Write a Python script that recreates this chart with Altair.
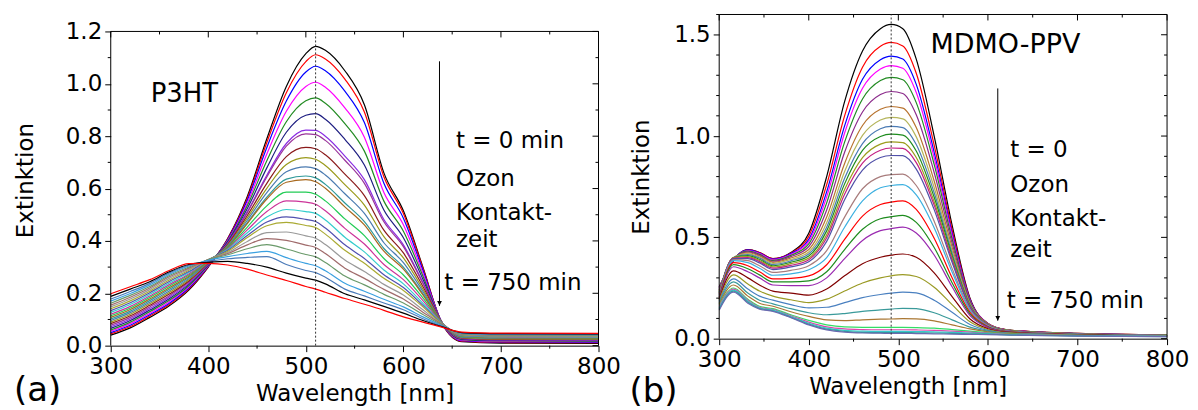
import altair as alt
import pandas as pd

FONT = "DejaVu Sans"

# ---------------- Panel (a): P3HT ----------------
A_WL = [300, 320, 340, 360, 380, 400, 420, 440, 460, 480, 500, 510, 520, 540, 560, 580, 600, 620, 640, 660, 700, 800]
# one row per wavelength, one column per spectrum (t = 0 ... t = 750 min)
A_EXT = [
    [0.040,0.045,0.050,0.055,0.060,0.066,0.072,0.078,0.084,0.090,0.096,0.102,0.108,0.114,0.120,0.127,0.134,0.141,0.148,0.155,0.162,0.170,0.178,0.188,0.198],
    [0.068,0.073,0.078,0.084,0.090,0.096,0.102,0.108,0.114,0.120,0.126,0.132,0.138,0.144,0.150,0.157,0.164,0.171,0.178,0.185,0.192,0.199,0.207,0.216,0.225],
    [0.108,0.113,0.118,0.124,0.130,0.136,0.142,0.148,0.154,0.160,0.166,0.172,0.178,0.184,0.190,0.196,0.202,0.208,0.214,0.220,0.226,0.232,0.238,0.244,0.252],
    [0.152,0.157,0.162,0.168,0.173,0.179,0.185,0.191,0.197,0.203,0.209,0.215,0.221,0.227,0.233,0.239,0.245,0.251,0.257,0.263,0.268,0.273,0.278,0.282,0.287],
    [0.212,0.216,0.220,0.225,0.229,0.234,0.238,0.243,0.247,0.252,0.256,0.261,0.265,0.270,0.274,0.279,0.283,0.288,0.292,0.296,0.300,0.304,0.307,0.310,0.313],
    [0.300,0.302,0.304,0.306,0.308,0.310,0.312,0.314,0.316,0.318,0.320,0.322,0.323,0.325,0.326,0.327,0.328,0.329,0.329,0.329,0.328,0.326,0.322,0.318,0.314],
    [0.410,0.408,0.405,0.402,0.399,0.396,0.393,0.390,0.387,0.384,0.381,0.378,0.376,0.373,0.370,0.367,0.364,0.360,0.356,0.352,0.347,0.340,0.332,0.322,0.308],
    [0.570,0.563,0.555,0.545,0.535,0.524,0.512,0.508,0.497,0.488,0.479,0.470,0.466,0.453,0.442,0.431,0.421,0.413,0.398,0.385,0.370,0.352,0.337,0.314,0.292],
    [0.790,0.776,0.757,0.732,0.706,0.679,0.651,0.644,0.620,0.601,0.584,0.567,0.560,0.534,0.512,0.491,0.472,0.458,0.432,0.409,0.386,0.360,0.340,0.300,0.270],
    [0.990,0.966,0.934,0.895,0.855,0.815,0.772,0.762,0.722,0.692,0.664,0.636,0.624,0.586,0.553,0.520,0.492,0.471,0.434,0.402,0.369,0.336,0.310,0.277,0.249],
    [1.115,1.085,1.045,0.990,0.935,0.880,0.823,0.809,0.757,0.718,0.683,0.648,0.634,0.586,0.548,0.512,0.482,0.459,0.419,0.384,0.348,0.314,0.287,0.258,0.226],
    [1.143,1.111,1.067,1.006,0.946,0.886,0.822,0.806,0.752,0.712,0.676,0.641,0.626,0.578,0.540,0.505,0.474,0.451,0.410,0.375,0.339,0.305,0.279,0.250,0.216],
    [1.128,1.095,1.050,0.987,0.926,0.865,0.800,0.784,0.729,0.688,0.652,0.616,0.601,0.553,0.515,0.480,0.449,0.426,0.386,0.352,0.318,0.286,0.261,0.236,0.204],
    [1.050,1.018,0.972,0.908,0.848,0.788,0.724,0.708,0.655,0.615,0.580,0.545,0.530,0.484,0.448,0.414,0.385,0.364,0.327,0.296,0.266,0.238,0.216,0.198,0.180],
    [0.920,0.892,0.852,0.796,0.743,0.690,0.634,0.620,0.573,0.537,0.505,0.474,0.461,0.420,0.388,0.358,0.333,0.315,0.283,0.257,0.232,0.208,0.190,0.175,0.158],
    [0.660,0.645,0.620,0.585,0.552,0.518,0.482,0.473,0.441,0.416,0.393,0.371,0.361,0.333,0.310,0.289,0.271,0.257,0.234,0.215,0.196,0.177,0.163,0.150,0.135],
    [0.515,0.505,0.487,0.462,0.437,0.412,0.385,0.378,0.354,0.335,0.317,0.300,0.292,0.270,0.252,0.236,0.222,0.211,0.193,0.178,0.163,0.148,0.137,0.124,0.110],
    [0.300,0.296,0.288,0.277,0.266,0.254,0.241,0.238,0.226,0.216,0.207,0.198,0.194,0.182,0.172,0.162,0.154,0.148,0.137,0.128,0.119,0.110,0.103,0.096,0.090],
    [0.082,0.083,0.084,0.085,0.085,0.086,0.086,0.086,0.086,0.086,0.086,0.086,0.086,0.085,0.085,0.084,0.083,0.082,0.081,0.080,0.078,0.076,0.074,0.072,0.070],
    [0.015,0.017,0.019,0.021,0.023,0.025,0.027,0.028,0.030,0.031,0.032,0.034,0.035,0.036,0.038,0.039,0.040,0.041,0.043,0.044,0.045,0.047,0.048,0.050,0.052],
    [0.010,0.012,0.014,0.016,0.018,0.020,0.022,0.023,0.025,0.026,0.028,0.029,0.030,0.032,0.033,0.034,0.036,0.037,0.038,0.040,0.041,0.043,0.044,0.046,0.048],
    [0.009,0.011,0.013,0.015,0.017,0.019,0.021,0.022,0.024,0.025,0.027,0.028,0.029,0.031,0.032,0.033,0.035,0.036,0.037,0.039,0.040,0.042,0.043,0.045,0.047],
]
A_COLORS = ["#000000", "#ff0000", "#0000ff", "#ff00ff", "#228b22", "#1c1c80", "#8a2be2", "#993399",
            "#8b1a1a", "#9a9a1a", "#4a7ab0", "#2e9999", "#a8691e", "#22cc55", "#cc3399", "#33cccc",
            "#5050b0", "#aaaa33", "#999999", "#a06b6b", "#6a9a6a", "#3aa0e0", "#4a7ab8", "#000000", "#ff0000"]
A_Y_MAJOR = [0.0, 0.2, 0.4, 0.6, 0.8, 1.0, 1.2]
A_Y_MINOR = [0.1, 0.3, 0.5, 0.7, 0.9, 1.1]

# ---------------- Panel (b): MDMO-PPV ----------------
B_WL = [300, 316, 332, 345, 360, 380, 400, 420, 440, 460, 480, 492, 505, 520, 540, 560, 580, 600, 620, 660, 700, 800]
B_EXT = [
    [0.255,0.252,0.249,0.246,0.243,0.240,0.237,0.234,0.231,0.228,0.225,0.222,0.219,0.215,0.211,0.207,0.203,0.199,0.194,0.189,0.183,0.177,0.171,0.165,0.159,0.153,0.147,0.141],
    [0.385,0.388,0.390,0.392,0.394,0.396,0.398,0.400,0.400,0.400,0.400,0.398,0.395,0.390,0.385,0.375,0.365,0.355,0.335,0.315,0.295,0.280,0.265,0.250,0.245,0.240,0.235,0.230],
    [0.440,0.440,0.438,0.435,0.432,0.428,0.424,0.420,0.415,0.410,0.405,0.400,0.395,0.385,0.375,0.360,0.345,0.330,0.300,0.270,0.245,0.225,0.210,0.195,0.190,0.185,0.180,0.175],
    [0.425,0.425,0.423,0.420,0.416,0.412,0.408,0.403,0.398,0.392,0.386,0.380,0.374,0.360,0.348,0.330,0.315,0.300,0.265,0.235,0.210,0.190,0.175,0.160,0.155,0.152,0.149,0.146],
    [0.395,0.395,0.393,0.390,0.386,0.382,0.377,0.372,0.366,0.360,0.354,0.348,0.341,0.327,0.313,0.295,0.280,0.265,0.235,0.210,0.190,0.172,0.160,0.148,0.144,0.141,0.138,0.135],
    [0.425,0.423,0.420,0.416,0.411,0.405,0.398,0.391,0.384,0.377,0.370,0.362,0.354,0.337,0.320,0.298,0.280,0.262,0.225,0.192,0.168,0.148,0.133,0.118,0.113,0.109,0.106,0.104],
    [0.520,0.505,0.490,0.480,0.468,0.455,0.440,0.428,0.418,0.408,0.398,0.390,0.380,0.360,0.340,0.310,0.285,0.262,0.215,0.178,0.152,0.128,0.110,0.090,0.082,0.076,0.072,0.068],
    [0.800,0.760,0.725,0.700,0.670,0.635,0.600,0.572,0.550,0.532,0.513,0.498,0.480,0.435,0.400,0.365,0.330,0.300,0.245,0.195,0.155,0.118,0.093,0.068,0.058,0.052,0.047,0.043],
    [1.170,1.100,1.050,1.015,0.970,0.920,0.865,0.825,0.792,0.764,0.736,0.713,0.686,0.600,0.550,0.490,0.440,0.395,0.310,0.235,0.178,0.124,0.089,0.058,0.048,0.041,0.036,0.032],
    [1.420,1.340,1.280,1.236,1.183,1.119,1.052,1.003,0.963,0.929,0.893,0.866,0.832,0.740,0.680,0.605,0.540,0.485,0.370,0.275,0.203,0.135,0.093,0.056,0.045,0.037,0.031,0.028],
    [1.530,1.443,1.377,1.331,1.274,1.205,1.132,1.079,1.036,0.998,0.960,0.930,0.894,0.800,0.745,0.662,0.592,0.533,0.402,0.300,0.218,0.142,0.096,0.056,0.044,0.036,0.030,0.027],
    [1.551,1.462,1.395,1.348,1.290,1.220,1.146,1.092,1.048,1.010,0.971,0.941,0.904,0.810,0.756,0.674,0.602,0.543,0.412,0.310,0.225,0.146,0.097,0.056,0.044,0.036,0.030,0.026],
    [1.530,1.445,1.380,1.335,1.278,1.210,1.138,1.085,1.042,1.005,0.968,0.939,0.903,0.812,0.760,0.680,0.609,0.551,0.418,0.316,0.230,0.150,0.099,0.056,0.044,0.036,0.030,0.026],
    [1.380,1.310,1.255,1.215,1.165,1.105,1.042,0.996,0.958,0.926,0.894,0.869,0.837,0.756,0.710,0.638,0.574,0.522,0.402,0.307,0.226,0.148,0.098,0.055,0.043,0.035,0.029,0.025],
    [1.000,0.955,0.920,0.893,0.860,0.820,0.778,0.746,0.720,0.698,0.676,0.659,0.637,0.580,0.548,0.496,0.450,0.413,0.325,0.254,0.190,0.128,0.088,0.052,0.041,0.034,0.028,0.024],
    [0.560,0.540,0.522,0.508,0.492,0.472,0.451,0.435,0.422,0.410,0.398,0.389,0.377,0.347,0.329,0.301,0.276,0.256,0.208,0.168,0.130,0.093,0.068,0.045,0.037,0.031,0.026,0.022],
    [0.200,0.196,0.192,0.189,0.185,0.180,0.175,0.171,0.167,0.164,0.160,0.157,0.154,0.145,0.139,0.130,0.121,0.114,0.097,0.083,0.070,0.057,0.048,0.037,0.032,0.028,0.024,0.021],
    [0.075,0.075,0.074,0.074,0.073,0.073,0.072,0.071,0.070,0.070,0.069,0.068,0.067,0.065,0.063,0.060,0.057,0.055,0.049,0.045,0.041,0.037,0.034,0.030,0.027,0.025,0.022,0.020],
    [0.045,0.045,0.044,0.044,0.043,0.043,0.042,0.042,0.041,0.041,0.040,0.040,0.039,0.038,0.037,0.036,0.035,0.034,0.032,0.030,0.028,0.026,0.025,0.023,0.021,0.020,0.019,0.018],
    [0.032,0.032,0.031,0.031,0.031,0.030,0.030,0.030,0.029,0.029,0.029,0.028,0.028,0.027,0.027,0.026,0.025,0.025,0.024,0.023,0.022,0.021,0.020,0.019,0.018,0.017,0.016,0.015],
    [0.026,0.026,0.025,0.025,0.025,0.024,0.024,0.024,0.023,0.023,0.023,0.022,0.022,0.021,0.021,0.020,0.020,0.019,0.019,0.018,0.017,0.017,0.016,0.015,0.015,0.014,0.014,0.013],
    [0.018,0.018,0.018,0.017,0.017,0.017,0.017,0.016,0.016,0.016,0.016,0.015,0.015,0.015,0.014,0.014,0.014,0.013,0.013,0.013,0.012,0.012,0.012,0.011,0.011,0.011,0.010,0.010],
]
B_COLORS = ["#000000", "#ff0000", "#0000ff", "#ff00ff", "#228b22", "#8b2a8b", "#b8732e", "#b5b55c",
            "#4a7ab4", "#1e8c1e", "#9c9c1c", "#c21e82", "#5050a8", "#a87c7c", "#3cb0e0", "#ff0000",
            "#1e8c1e", "#9a2ab0", "#800000", "#9a9a24", "#4a80c0", "#3a9a9a", "#aa7733", "#33dd66",
            "#dd44aa", "#33cccc", "#339999", "#6a6ab0"]
B_Y_MAJOR = [0.0, 0.5, 1.0, 1.5]
B_Y_MINOR = [0.1, 0.2, 0.3, 0.4, 0.6, 0.7, 0.8, 0.9, 1.1, 1.2, 1.3, 1.4, 1.6]

X_MAJOR = [300, 400, 500, 600, 700, 800]
X_MINOR = [350, 450, 550, 650, 750]


def long_table(wl, rows, prefix):
    recs = []
    for i, w in enumerate(wl):
        for k, v in enumerate(rows[i]):
            recs.append({"wl": w, "ext": v, "curve": f"{prefix}{k:02d}"})
    return pd.DataFrame(recs)


def one_row(**kw):
    return pd.DataFrame({k: [v] for k, v in kw.items()})


def panel(wl, rows, colors, prefix, yframe, y_major, y_minor, W, H, HF,
          peak_x, arrow_x, arrow_y1, arrow_y2, texts, name, name_pos, name_size,
          label, label_xy, ytitle_pad, xtitle_x):
    # H: plot height, HF: framed height (frame sits at the bottom of the plot area)
    top_px = H - HF
    ytop = yframe * H / HF
    df = long_table(wl, rows, prefix)
    ids = [f"{prefix}{k:02d}" for k in range(len(colors))]
    xs = alt.Scale(domain=[300, 800], nice=False, zero=False)
    ys = alt.Scale(domain=[0, ytop], nice=False, zero=True)

    xaxis_kw = dict(values=X_MAJOR, title="Wavelength [nm]", tickSize=6, grid=False,
                    labelFlush=False, labelOverlap=False, labelPadding=4, titlePadding=4,
                    domain=True)
    if xtitle_x is not None:
        xaxis_kw["titleX"] = xtitle_x
    xaxis = alt.Axis(**xaxis_kw)
    yaxis = alt.Axis(values=y_major, title="Extinktion", format=".1f", tickSize=6, grid=False,
                     labelFlush=False, labelOverlap=False, labelPadding=3,
                     titlePadding=ytitle_pad, domain=False)

    lines = alt.Chart(df).mark_line(strokeWidth=1.2, interpolate="monotone").encode(
        x=alt.X("wl:Q", scale=xs, axis=xaxis),
        y=alt.Y("ext:Q", scale=ys, axis=yaxis),
        color=alt.Color("curve:N", scale=alt.Scale(domain=ids, range=colors), legend=None),
        order=alt.Order("wl:Q"),
    )

    L = []
    # frame (left, right, top)
    L.append(alt.Chart(one_row(x=300, y1=0.0, y2=yframe)).mark_rule(color="black").encode(
        x=alt.X("x:Q", scale=xs), y=alt.Y("y1:Q", scale=ys), y2="y2:Q"))
    L.append(alt.Chart(one_row(x=800, y1=0.0, y2=yframe)).mark_rule(color="black").encode(
        x=alt.X("x:Q", scale=xs), y=alt.Y("y1:Q", scale=ys), y2="y2:Q"))
    L.append(alt.Chart(one_row(y=yframe)).mark_rule(color="black").encode(
        y=alt.Y("y:Q", scale=ys)))
    # minor ticks outside (left, bottom)
    L.append(alt.Chart(pd.DataFrame({"v": y_minor})).mark_rule(color="black").encode(
        y=alt.Y("v:Q", scale=ys), x=alt.value(-3), x2=alt.value(0)))
    L.append(alt.Chart(pd.DataFrame({"v": X_MINOR})).mark_rule(color="black").encode(
        x=alt.X("v:Q", scale=xs), y=alt.value(H), y2=alt.value(H + 3)))
    # mirror ticks inside (top, right)
    L.append(alt.Chart(pd.DataFrame({"v": X_MAJOR})).mark_rule(color="black").encode(
        x=alt.X("v:Q", scale=xs), y=alt.value(top_px), y2=alt.value(top_px + 6)))
    L.append(alt.Chart(pd.DataFrame({"v": X_MINOR})).mark_rule(color="black").encode(
        x=alt.X("v:Q", scale=xs), y=alt.value(top_px), y2=alt.value(top_px + 3)))
    L.append(alt.Chart(pd.DataFrame({"v": y_major})).mark_rule(color="black").encode(
        y=alt.Y("v:Q", scale=ys), x=alt.value(W - 6), x2=alt.value(W)))
    L.append(alt.Chart(pd.DataFrame({"v": y_minor})).mark_rule(color="black").encode(
        y=alt.Y("v:Q", scale=ys), x=alt.value(W - 3), x2=alt.value(W)))

    # dotted peak line, arrow
    L.append(alt.Chart(one_row(x=peak_x, y1=0.0, y2=yframe)).mark_rule(
        color="#333333", strokeDash=[2, 2], strokeWidth=1).encode(
        x=alt.X("x:Q", scale=xs), y=alt.Y("y1:Q", scale=ys), y2="y2:Q"))
    L.append(alt.Chart(one_row(x=arrow_x, y1=arrow_y1, y2=arrow_y2)).mark_rule(
        color="black", strokeWidth=1).encode(
        x=alt.X("x:Q", scale=xs), y=alt.Y("y1:Q", scale=ys), y2="y2:Q"))
    L.append(alt.Chart(one_row(x=arrow_x, y=arrow_y2)).mark_point(
        shape="M -0.5 -1 L 0.5 -1 L 0 0 Z", filled=True, color="black", opacity=1, size=90).encode(
        x=alt.X("x:Q", scale=xs), y=alt.Y("y:Q", scale=ys)))

    for (tx, ty, tt) in texts:
        L.append(alt.Chart(one_row(x=tx, y=ty)).mark_text(
            text=tt, align="left", baseline="middle", font=FONT, fontSize=23, color="black").encode(
            x=alt.X("x:Q", scale=xs), y=alt.Y("y:Q", scale=ys)))
    L.append(alt.Chart(one_row(x=name_pos[0], y=name_pos[1])).mark_text(
        text=name, align="left", baseline="middle", font=FONT, fontSize=name_size, color="black").encode(
        x=alt.X("x:Q", scale=xs), y=alt.Y("y:Q", scale=ys)))
    L.append(alt.Chart(one_row(k=0)).mark_text(
        text=label, align="left", baseline="middle", font=FONT, fontSize=34, color="black").encode(
        x=alt.value(label_xy[0]), y=alt.value(label_xy[1])))

    return alt.layer(lines, *L).properties(width=W, height=H)


panel_a = panel(A_WL, A_EXT, A_COLORS, "a", 1.2, A_Y_MAJOR, A_Y_MINOR, 489, 332, 315,
                510, 637, 1.086, 0.152,
                [(654, 0.78, "t = 0 min"), (654, 0.635, "Ozon"), (654, 0.505, "Kontakt-"),
                 (654, 0.405, "zeit"), (642, 0.24, "t = 750 min")],
                "P3HT", (341, 0.96), 26, "(a)", (-97, 377), 28, None)

panel_b = panel(B_WL, B_EXT, B_COLORS, "b", 1.6, B_Y_MAJOR, B_Y_MINOR, 449, 325, 325,
                492, 611, 1.235, 0.089,
                [(625, 0.93, "t = 0"), (625, 0.76, "Ozon"), (625, 0.59, "Kontakt-"),
                 (625, 0.44, "zeit"), (621, 0.187, "t = 750 min")],
                "MDMO-PPV", (536, 1.45), 27, "(b)", (-90, 378), 20, 189)

chart = alt.hconcat(panel_a, panel_b, spacing=7).resolve_scale(
    color="independent"
).properties(
    padding={"left": 5, "top": 5, "right": 0, "bottom": 0}, background="white"
).configure_view(stroke="transparent").configure_axis(
    labelFont=FONT, titleFont=FONT, labelFontSize=23, titleFontSize=23,
    titleFontWeight="normal", labelColor="black", titleColor="black",
    domainColor="black", tickColor="black", domainWidth=1, tickWidth=1
)

chart.save("out.html", embed_options={"renderer": "svg", "actions": False})
